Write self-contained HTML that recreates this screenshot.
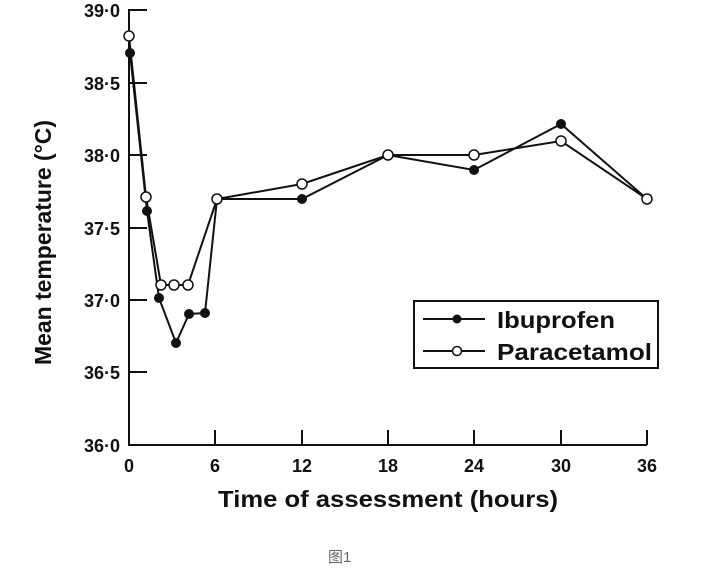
<!DOCTYPE html>
<html><head><style>
html,body{margin:0;padding:0;background:#fff;}
svg{display:block;}
text{font-family:"Liberation Sans",Arial,sans-serif;fill:#111;}
</style></head><body>
<svg width="702" height="571" viewBox="0 0 702 571" xmlns="http://www.w3.org/2000/svg">
<g stroke="#111" stroke-width="2" fill="none">
<polyline points="147,10 129,10 129,445 647,445"/>
<line x1="129" y1="83" x2="147" y2="83"/><line x1="129" y1="155" x2="147" y2="155"/>
<line x1="129" y1="228" x2="147" y2="228"/><line x1="129" y1="300" x2="147" y2="300"/>
<line x1="129" y1="372" x2="147" y2="372"/>
<line x1="215" y1="445" x2="215" y2="430"/><line x1="302" y1="445" x2="302" y2="430"/>
<line x1="388" y1="445" x2="388" y2="430"/><line x1="474" y1="445" x2="474" y2="430"/>
<line x1="561" y1="445" x2="561" y2="430"/><line x1="647" y1="445" x2="647" y2="430"/>
</g>
<g font-size="18" font-weight="bold" text-anchor="end">
<text x="120" y="17">39·0</text><text x="120" y="90">38·5</text><text x="120" y="162">38·0</text>
<text x="120" y="235">37·5</text><text x="120" y="307">37·0</text><text x="120" y="379">36·5</text>
<text x="120" y="452">36·0</text>
</g>
<g font-size="18" font-weight="bold" text-anchor="middle">
<text x="129" y="472">0</text><text x="215" y="472">6</text><text x="302" y="472">12</text>
<text x="388" y="472">18</text><text x="474" y="472">24</text><text x="561" y="472">30</text>
<text x="647" y="472">36</text>
</g>
<text x="218" y="507" font-size="23" font-weight="bold" textLength="340" lengthAdjust="spacingAndGlyphs">Time of assessment (hours)</text>
<text transform="translate(51,365) rotate(-90)" font-size="23" font-weight="bold" textLength="245" lengthAdjust="spacingAndGlyphs">Mean temperature (°C)</text>
<g stroke="#111" stroke-width="2" fill="none">
<polyline points="130,53 147,211 159,298 176,343 189,314 205,313 217,199 302,199 388,155 474,170 561,124 647,199"/>
<polyline points="129,36 146,197 161,285 174,285 188,285 217,199 302,184 388,155 474,155 561,141 647,199"/>
</g>
<g fill="#111">
<circle cx="130" cy="53" r="5"/><circle cx="147" cy="211" r="5"/><circle cx="159" cy="298" r="5"/>
<circle cx="176" cy="343" r="5"/><circle cx="189" cy="314" r="5"/><circle cx="205" cy="313" r="5"/>
<circle cx="302" cy="199" r="5"/><circle cx="474" cy="170" r="5"/><circle cx="561" cy="124" r="5"/>
</g>
<g fill="#fff" stroke="#111" stroke-width="1.5">
<circle cx="129" cy="36" r="5"/><circle cx="146" cy="197" r="5"/><circle cx="161" cy="285" r="5"/>
<circle cx="174" cy="285" r="5"/><circle cx="188" cy="285" r="5"/><circle cx="217" cy="199" r="5"/>
<circle cx="302" cy="184" r="5"/><circle cx="388" cy="155" r="5"/><circle cx="474" cy="155" r="5"/>
<circle cx="561" cy="141" r="5"/><circle cx="647" cy="199" r="5"/>
</g>
<rect x="414" y="301" width="244" height="67" fill="#fff" stroke="#111" stroke-width="2"/>
<line x1="423" y1="319" x2="485" y2="319" stroke="#111" stroke-width="2"/>
<circle cx="457" cy="319" r="4.5" fill="#111"/>
<line x1="423" y1="351" x2="485" y2="351" stroke="#111" stroke-width="2"/>
<circle cx="457" cy="351" r="4.5" fill="#fff" stroke="#111" stroke-width="1.5"/>
<text x="497" y="328" font-size="23" font-weight="bold" textLength="118" lengthAdjust="spacingAndGlyphs">Ibuprofen</text>
<text x="497" y="360" font-size="23" font-weight="bold" textLength="155" lengthAdjust="spacingAndGlyphs">Paracetamol</text>
<text x="328" y="562" font-size="15" style="fill:#666;font-family:'Liberation Sans','Noto Sans CJK SC',sans-serif">图1</text>
</svg>
</body></html>
